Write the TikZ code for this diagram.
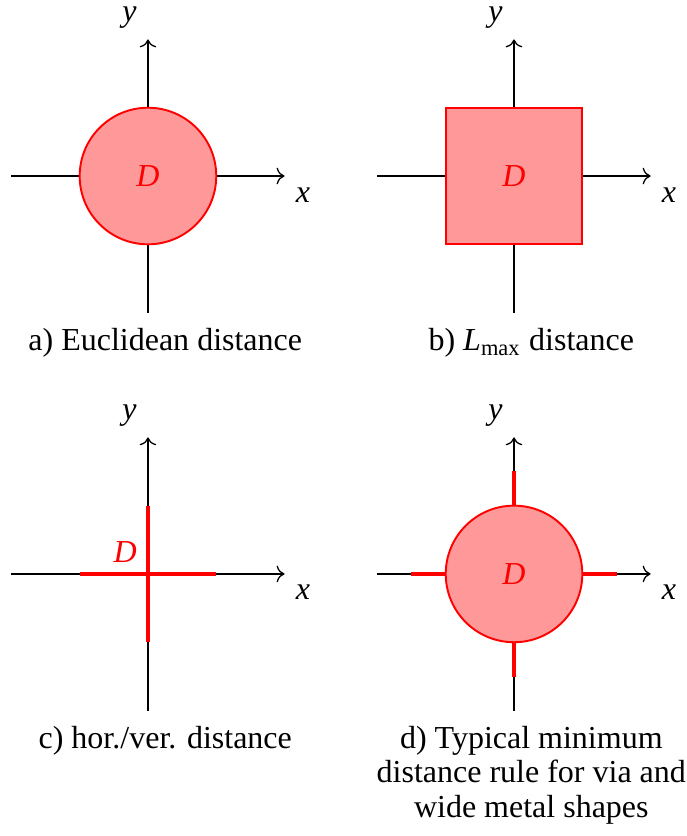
\documentclass[tikz,border=0pt]{standalone}
\usepackage{fontspec}
\setmainfont{Liberation Serif}
\usepackage{tikz}
\usetikzlibrary{arrows.meta,positioning}
\tikzstyle{axis}=[->, black]
\tikzstyle{disk}=[circle, draw=red, semithick, fill=red!40, text=red,
  minimum size=1.5cm, inner sep=0pt]
\tikzstyle{plate}=[rectangle, draw=red, semithick, fill=red!40, text=red,
  minimum size=1.5cm, inner sep=0pt]
\tikzstyle{bar}=[red, line width=1pt]
\newcommand{\ax}[1]{\textit{#1}}
\newcommand{\lmax}{\textit{L}\textsubscript{max}}

\begin{document}
\begin{tikzpicture}[
  caption/.style={align=center, xshift=0.19cm, font=\fontsize{10}{10.7}\selectfont},
  every node/.style={transform shape}]
\useasboundingbox (-1.625,-7.248) rectangle (5.919,1.933);

% axes
\foreach \p/\px/\py in {a/0/0, b/4.02/0, c/0/-4.37, d/4.02/-4.37} {
  \begin{scope}[shift={(\px,\py)}]
    \coordinate (\p O) at (0,0);
    \coordinate (\p W) at (-1.5,0);
    \coordinate (\p E) at (1.5,0);
    \coordinate (\p S) at (0,-1.5);
    \coordinate (\p N) at (0,1.5);
  \end{scope}
  \draw[axis] (\p W) -- (\p E) node[below right] (\p x) {\ax{x}};
  \draw[axis] (\p S) -- (\p N) node[above left] (\p y) {\ax{y}};
}
% a) euclidean
\node[disk] (aD) at (aO) {\ax{D}};
\node[caption, below=0.05cm of aS] (aCap) {a) Euclidean distance};
% b) lmax
\node[plate] (bD) at (bO) {\ax{D}};
\node[caption, below=0.05cm of bS] (bCap) {b) \lmax{} distance};
% c) hor./ver.
\coordinate[left=0.75cm of cO] (cl);
\coordinate[right=0.75cm of cO] (cr);
\coordinate[above=0.75cm of cO] (ct);
\coordinate[below=0.75cm of cO] (cb);
\draw[bar] (cl) -- (cr);
\draw[bar] (cb) -- (ct);
\node[red, above left=0pt of cO] (cD) {\ax{D}};
\node[caption, below=0.05cm of cS] (cCap) {c) hor./ver. distance};
% d) via + wide metal
\node[disk] (dD) at (dO) {\ax{D}};
\foreach \a/\dir in {north/above, south/below, east/right, west/left} {
  \coordinate[\dir=0.375cm of dD.\a] (d\a);
  \draw[bar] (dD.\a) -- (d\a);
}
\node[caption, below=0.05cm of dS] (dCap) {d) Typical minimum\\distance rule for via and\\wide metal shapes};
\end{tikzpicture}
\end{document}
